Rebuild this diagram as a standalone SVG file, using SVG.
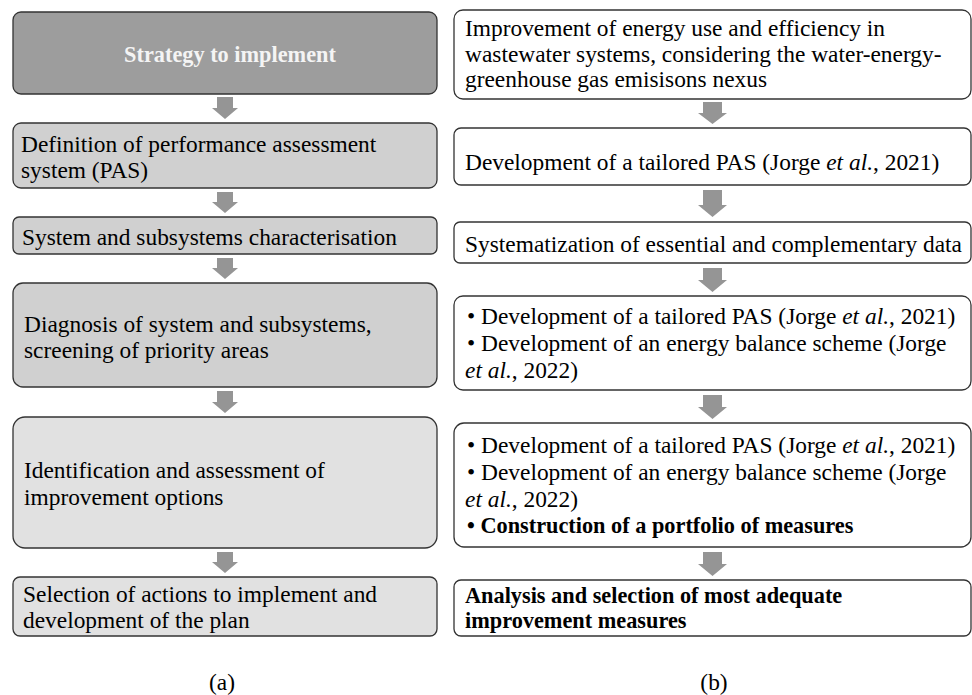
<svg xmlns="http://www.w3.org/2000/svg" width="972" height="695" viewBox="0 0 972 695">
<style>
.box{stroke:#333;stroke-width:1.3}
.dark{fill:#9d9d9d}
.mid{fill:#d0d0d0}
.light{fill:#e1e1e1}
.white{fill:#fff}
.t{font-family:"Liberation Serif","Times New Roman",serif;font-size:23.4px;fill:#000}
.b{font-weight:bold;font-size:22.3px}
.i{font-style:italic}
.arr{fill:#959595}
</style>
<rect width="972" height="695" fill="#fff"/>
<g id="a1"><rect class="box dark" x="13" y="12" width="424" height="82" rx="8"/><text class="t b" x="230" y="62" text-anchor="middle" style="fill:#f4f4f4">Strategy to implement</text></g>
<g id="a2"><rect class="box mid" x="13" y="123" width="424" height="65" rx="8"/><text class="t" x="21" y="152">Definition of performance assessment</text><text class="t" x="21" y="178">system (PAS)</text></g>
<g id="a3"><rect class="box mid" x="13" y="217" width="424" height="37" rx="6"/><text class="t" x="22" y="245">System and subsystems characterisation</text></g>
<g id="a4"><rect class="box mid" x="13" y="283" width="424" height="104" rx="10"/><text class="t" x="24" y="332">Diagnosis of system and subsystems,</text><text class="t" x="24" y="358">screening of priority areas</text></g>
<g id="a5"><rect class="box light" x="13" y="417" width="424" height="131" rx="12"/><text class="t" x="24" y="478">Identification and assessment of</text><text class="t" x="24" y="505">improvement options</text></g>
<g id="a6"><rect class="box light" x="13" y="577" width="424" height="59" rx="7"/><text class="t" x="23" y="602">Selection of actions to implement and</text><text class="t" x="23" y="628">development of the plan</text></g>
<g id="b1"><rect class="box white" x="454" y="10" width="517" height="89" rx="9"/><text class="t" x="465" y="36">Improvement of energy use and efficiency in</text><text class="t" x="465" y="62">wastewater systems, considering the water-energy-</text><text class="t" x="465" y="87">greenhouse gas emisisons nexus</text></g>
<g id="b2"><rect class="box white" x="454" y="128" width="517" height="57" rx="7"/><text class="t" x="465" y="170">Development of a tailored PAS (Jorge <tspan class="i">et al.</tspan>, 2021)</text></g>
<g id="b3"><rect class="box white" x="454" y="222" width="517" height="41" rx="6"/><text class="t" x="465" y="252">Systematization of essential and complementary data</text></g>
<g id="b4"><rect class="box white" x="454" y="296" width="517" height="94" rx="9"/><text class="t" x="467" y="324">• Development of a tailored PAS (Jorge <tspan class="i">et al.</tspan>, 2021)</text><text class="t" x="467" y="351">• Development of an energy balance scheme (Jorge</text><text class="t" x="465" y="378"><tspan class="i">et al.</tspan>, 2022)</text></g>
<g id="b5"><rect class="box white" x="454" y="423" width="517" height="124" rx="10"/><text class="t" x="467" y="453">• Development of a tailored PAS (Jorge <tspan class="i">et al.</tspan>, 2021)</text><text class="t" x="467" y="480">• Development of an energy balance scheme (Jorge</text><text class="t" x="465" y="507"><tspan class="i">et al.</tspan>, 2022)</text><text class="t b" x="467" y="533">• Construction of a portfolio of measures</text></g>
<g id="b6"><rect class="box white" x="454" y="580" width="517" height="56" rx="7"/><text class="t b" x="465" y="603">Analysis and selection of most adequate</text><text class="t b" x="465" y="628">improvement measures</text></g>
<g id="connectors">
<polygon class="arr" points="217,97 233,97 233,108 238,108 225,119 212,108 217,108"/>
<polygon class="arr" points="217,192 233,192 233,202 238,202 225,213 212,202 217,202"/>
<polygon class="arr" points="217,258 233,258 233,268 238,268 225,279 212,268 217,268"/>
<polygon class="arr" points="217,391 233,391 233,402 238,402 225,413 212,402 217,402"/>
<polygon class="arr" points="217,552 233,552 233,562 238,562 225,573 212,562 217,562"/>
<polygon class="arr" points="703,102 722,102 722,113 727,113 712.5,124 698,113 703,113"/>
<polygon class="arr" points="703,190 722,190 722,205 727,205 712.5,217 698,205 703,205"/>
<polygon class="arr" points="703,268 722,268 722,280 727,280 712.5,292 698,280 703,280"/>
<polygon class="arr" points="703,395 722,395 722,407 727,407 712.5,419 698,407 703,407"/>
<polygon class="arr" points="703,552 722,552 722,564 727,564 712.5,576 698,564 703,564"/>
</g>
<text class="t" x="222" y="690" text-anchor="middle">(a)</text>
<text class="t" x="714" y="690" text-anchor="middle">(b)</text>
</svg>
